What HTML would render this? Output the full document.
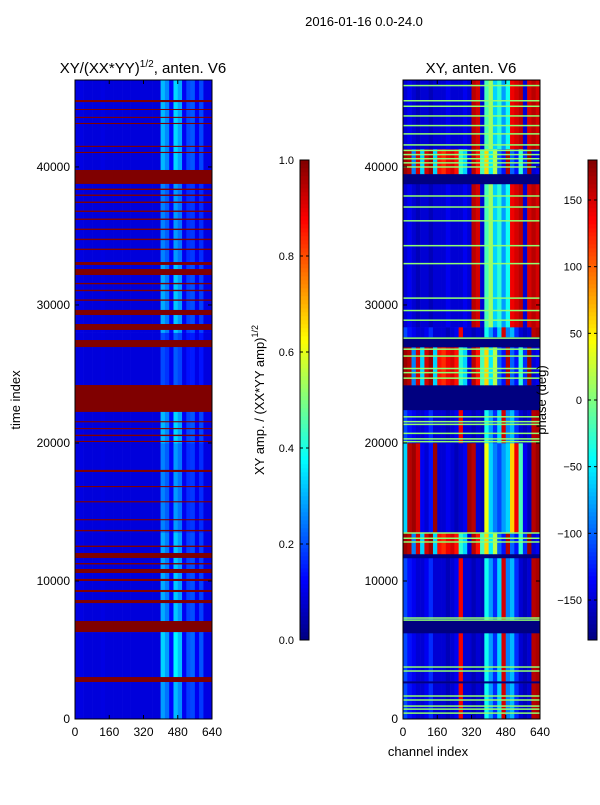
<!DOCTYPE html>
<html><head><meta charset="utf-8"><style>
body{margin:0;background:#fff;}
svg text{font-family:"Liberation Sans","DejaVu Sans",sans-serif;fill:#000;}
</style></head><body>
<svg id="fig" width="600" height="800" viewBox="0 0 600 800" xmlns="http://www.w3.org/2000/svg">
<rect width="600" height="800" fill="#fff"/>
<text x="364" y="26" font-size="13" text-anchor="middle">2016-01-16 0.0-24.0</text>
<text x="143" y="73" font-size="15" text-anchor="middle">XY/(XX*YY)<tspan font-size="10" dy="-6">1/2</tspan><tspan dy="6">, anten. V6</tspan></text>
<text x="471" y="73" font-size="15" text-anchor="middle">XY, anten. V6</text>
<text transform="translate(20,400) rotate(-90)" font-size="13" text-anchor="middle">time index</text>
<text x="428" y="756" font-size="13" text-anchor="middle">channel index</text>
<text transform="translate(264,400) rotate(-90)" font-size="13" text-anchor="middle">XY amp. / (XX*YY amp)<tspan font-size="9" dy="-6">1/2</tspan></text>
<g id="left"></g>
<g id="right"></g>
<g id="axes"></g>
<text transform="translate(546,400) rotate(-90)" font-size="13" text-anchor="middle">phase (deg)</text>
</svg>
<script>
// ---- data ----
const yTicks=[0,10000,20000,30000,40000];
const xTicks=[0,160,320,480,640];
const ampTicks=[0.0,0.2,0.4,0.6,0.8,1.0];
const phaseTicks=[-150,-100,-50,0,50,100,150];
// left: column amplitude profile (32 cols x 20 channels) when active
const ampProfile=[0.1,0.1,0.09,0.09,0.09,0.09,0.1,0.09,0.09,0.09,0.09,0.09,0.09,0.09,0.09,0.09,0.09,0.09,0.09,0.09,0.36,0.3,0.14,0.4,0.34,0.12,0.22,0.24,0.12,0.22,0.1,0.1];
// left: activity segments [t0,t1,activity]
const ampRows=[[0,2800,0.7],[2800,6300,0.9],[6300,13500,0.75],[13500,20000,0.6],[20000,24200,0.8],[24200,28000,0.4],[28000,33000,0.75],[33000,38800,0.6],[38800,46300,0.8]];
// left: saturated bands [t0,t1]
const ampBands=[[2680,3040],[6300,7100],[8400,8620],[9200,9350],[10000,10150],[10580,10870],[11200,11300],[11670,12030],[12460,12560],[13600,13700],[14400,14480],[15700,15780],[16800,16880],[17900,18050],[20070,20150],[20500,20600],[21000,21080],[21500,21580],[22250,24200],[26950,27460],[28190,28620],[29270,29640],[30300,30400],[31000,31100],[31500,31600],[32170,32600],[32900,33110],[33980,34080],[34700,34800],[35430,35530],[36160,36260],[36740,36840],[37390,37490],[37900,38000],[38330,38430],[38770,39780],[41010,41090],[41450,41530],[43110,43190],[43550,43630],[44130,44200],[44700,44850]];
// right: phase profiles per regime (32 cols x 20 channels), degrees
const phaseA=[-60,160,170,150,-140,-150,-130,170,-150,-150,-140,-150,-160,-150,-140,170,160,-150,-160,40,-60,-90,-110,-80,-60,60,140,-20,-140,-160,160,170];
const phaseB=[-110,-130,-140,-150,-150,-140,-120,-150,-150,-150,-160,-150,-140,140,-150,-150,-160,-150,-160,-40,-80,-120,-60,150,-90,-70,-120,-150,-160,-150,160,165];
const phaseC=[170,160,-90,150,-60,150,170,-60,130,120,140,150,130,-30,-60,-150,160,130,-20,60,-50,20,-100,-130,160,-100,-130,-30,-120,170,-150,-140];
const phaseD=[-150,-140,-150,-160,-150,-150,-160,-150,-150,-150,-140,-150,-150,-150,-140,-150,160,150,-150,-20,10,-60,-30,-80,-40,140,150,160,-150,150,160,150];
// right: regime segments [t0,t1,regime]
const phaseRows=[[0,2600,'B'],[2600,2750,'X'],[2750,6230,'B'],[6230,7170,'X'],[7170,11670,'B'],[11670,11960,'X'],[11960,13480,'C'],[13480,20000,'A'],[20000,22400,'B'],[22400,24200,'X'],[24200,26950,'C'],[26950,27680,'X'],[27680,28400,'B'],[28400,38770,'D'],[38770,39500,'X'],[39500,41300,'C'],[41300,46300,'D']];
// right: green lines (time index)
const greenLines=[430,720,940,1380,1670,3480,3770,7170,7320,12830,13100,13480,20100,20300,20700,21350,21550,21900,24700,25100,25400,26300,26800,27600,28900,29600,30500,33000,34300,36100,37100,37900,40000,40300,40600,40900,41200,41600,42400,43000,43700,44400,44800,45900];

// ---- helpers ----
const NS='http://www.w3.org/2000/svg';
const TMAX=46300, Y0=719, Y1=80;
function jet(v){v=Math.max(0,Math.min(1,v));const c=x=>Math.round(255*Math.max(0,Math.min(1,x)));
 return `rgb(${c(1.5-Math.abs(4*v-3))},${c(1.5-Math.abs(4*v-2))},${c(1.5-Math.abs(4*v-1))})`;}
const yScale=t=>Y0-(t/TMAX)*(Y0-Y1);
function mk(tag,attrs,parent){const e=document.createElementNS(NS,tag);for(const k in attrs)e.setAttribute(k,attrs[k]);parent.appendChild(e);return e;}
function xScaleFor(x0){return ch=>x0+ch/640*137;}

// left heatmap
const L=document.getElementById('left'); const lx=xScaleFor(75);
ampRows.forEach(r=>{ampProfile.forEach((p,i)=>{
 const v=0.09+(p-0.09)*r[2];
 const y1=yScale(r[1]),y0=yScale(r[0]);
 const e=mk('rect',{x:lx(i*20),y:y1,width:lx(i*20+20)-lx(i*20)+0.3,height:y0-y1+0.3,fill:jet(v)},L);
 
 
});});
ampBands.forEach(b=>{const y1=yScale(b[1]),y0=yScale(b[0]);
 const e=mk('rect',{x:75,y:y1,width:137,height:Math.max(1,y0-y1),fill:jet(1)},L);
 
 
});

// right heatmap
const R=document.getElementById('right'); const rx=xScaleFor(403);
const regimes={A:phaseA,B:phaseB,C:phaseC,D:phaseD};
phaseRows.forEach(r=>{const y1=yScale(r[1]),y0=yScale(r[0]);
 if(r[2]==='X'){const e=mk('rect',{x:403,y:y1,width:137,height:y0-y1+0.3,fill:jet(0)},R);
  
  return;}
 regimes[r[2]].forEach((p,i)=>{
  const e=mk('rect',{x:rx(i*20),y:y1,width:rx(i*20+20)-rx(i*20)+0.3,height:y0-y1+0.3,fill:jet((p+180)/360)},R);
  
  
 });});
greenLines.forEach(t=>{const e=mk('rect',{x:403,y:yScale(t)-0.7,width:137,height:1.5,fill:'#90ff70'},R);
 
 });

// axes
const A=document.getElementById('axes');
function axes(x0,name){
 const g=mk('g',{},A);
 
 
 mk('rect',{x:x0,y:Y1,width:137,height:Y0-Y1,fill:'none',stroke:'#000','stroke-width':1},g);
 const xs=xScaleFor(x0);
 xTicks.forEach(t=>{const x=xs(t);mk('line',{x1:x,x2:x,y1:Y0,y2:Y0-4,stroke:'#000'},g);mk('line',{x1:x,x2:x,y1:Y1,y2:Y1+4,stroke:'#000'},g);
  const tx=mk('text',{x:x,y:Y0+17,'font-size':12,'text-anchor':'middle'},g);tx.textContent=t;
  
  });
 yTicks.forEach(t=>{const y=yScale(t);mk('line',{x1:x0,x2:x0+4,y1:y,y2:y,stroke:'#000'},g);mk('line',{x1:x0+137,x2:x0+133,y1:y,y2:y,stroke:'#000'},g);
  const tx=mk('text',{x:x0-5,y:y+4,'font-size':12,'text-anchor':'end'},g);tx.textContent=t;
  
  });
}
axes(75,'amp-axes');axes(403,'phase-axes');

// colorbars
function colorbar(x0,ticks,lo,hi,name){
 const g=mk('g',{},A);
 
 
 for(let i=0;i<120;i++){mk('rect',{x:x0,y:640-(i+1)*4,width:9,height:4.3,fill:jet((i+0.5)/120)},g);}
 mk('rect',{x:x0,y:160,width:9,height:480,fill:'none',stroke:'#000'},g);
 ticks.forEach(t=>{const y=640-(t-lo)/(hi-lo)*480;
  mk('line',{x1:x0,x2:x0+3,y1:y,y2:y,stroke:'#000'},g);mk('line',{x1:x0+9,x2:x0+6,y1:y,y2:y,stroke:'#000'},g);
  const tx=mk('text',{x:x0-6,y:y+4,'font-size':11,'text-anchor':'end'},g);
  tx.textContent=(lo===0?t.toFixed(1):t<0?'\u2212'+(-t):t);
  
  });
}
colorbar(300,ampTicks,0,1,'amp-colorbar');
colorbar(588,phaseTicks,-180,180,'phase-colorbar');
</script>
</body></html>
